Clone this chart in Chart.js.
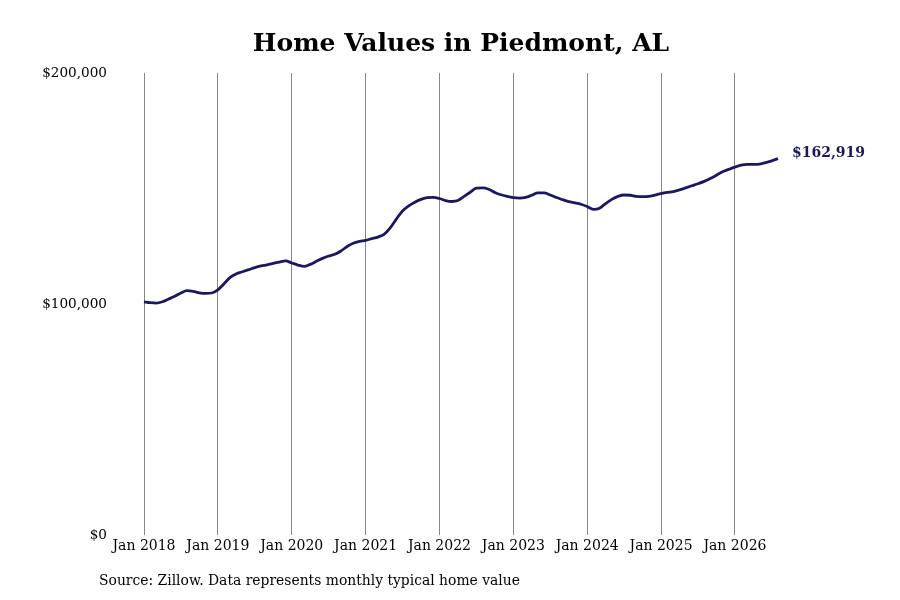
<!DOCTYPE html>
<html>
<head>
<meta charset="utf-8">
<script src="https://cdn.jsdelivr.net/npm/chart.js@4.4.1/dist/chart.umd.min.js"></script>
<style>
  html, body { margin: 0; padding: 0; background: #fff; }
  #wrap { width: 900px; height: 600px; position: relative; }
</style>
</head>
<body>
<div id="wrap"><canvas id="c"></canvas></div>
<script>
const chartTitle = "Home Values in Piedmont, AL";
const sourceNote = "Source: Zillow. Data represents monthly typical home value";
const monthNames = ["Jan","Feb","Mar","Apr","May","Jun","Jul","Aug","Sep","Oct","Nov","Dec"];
const years = [2018, 2019, 2020, 2021, 2022, 2023, 2024, 2025, 2026];
const lastMonthIndex2026 = 7; // Aug 2026

// Monthly typical home value, Jan 2018 .. Aug 2026
const values2018 = [101000,100600,100400,101000,102200,103400,104800,105800,105500,104900,104600,104800];
const values2019 = [106200,108800,111600,113100,114000,114900,115800,116500,117000,117600,118200,118700];
const values2020 = [117800,116900,116300,117200,118500,119800,120800,121600,123000,124900,126300,127100];
const values2021 = [127600,128300,129000,130200,133000,136800,140300,142500,144100,145300,146100,146200];
const values2022 = [145700,144800,144400,144800,146600,148400,150200,150300,149700,148300,147300,146600];
const values2023 = [146100,145900,146200,147100,148100,148100,147200,146100,145200,144300,143800,143200];
const values2024 = [142200,141000,141500,143500,145300,146600,147200,147100,146600,146500,146600,147200];
const values2025 = [147800,148300,148700,149400,150300,151200,152100,153100,154400,155800,157300,158300];
const values2026 = [159300,160100,160500,160500,160600,161200,162000,162919];

const yTicks = [0, 100000, 200000];

const labels = [];
years.forEach(y => {
  const n = (y === 2026) ? lastMonthIndex2026 + 1 : 12;
  for (let m = 0; m < n; m++) labels.push(monthNames[m] + " " + y);
});
const values = [].concat(values2018, values2019, values2020, values2021, values2022,
                         values2023, values2024, values2025, values2026);

const fmt = v => "$" + Number(v).toLocaleString("en-US");
const NAVY = "#1b1763";
const SERIF = "'DejaVu Serif', serif";

const extras = {
  id: "extras",
  afterDraw(chart) {
    const ctx = chart.ctx;
    const meta = chart.getDatasetMeta(0);
    const last = meta.data[meta.data.length - 1];
    ctx.save();
    ctx.font = "bold 14px " + SERIF;
    ctx.fillStyle = NAVY;
    ctx.textAlign = "left";
    ctx.textBaseline = "middle";
    ctx.fillText(fmt(values[values.length - 1]), last.x + 14, last.y - 5);
    ctx.font = "13.9px " + SERIF;
    ctx.fillStyle = "#000";
    ctx.fillText(sourceNote, 99, 581);
    ctx.restore();
  }
};

new Chart(document.getElementById("c"), {
  type: "line",
  data: {
    labels: labels,
    datasets: [{
      data: values,
      borderColor: NAVY,
      borderWidth: 2.8,
      pointRadius: 0,
      pointHoverRadius: 0,
      tension: 0.4,
      cubicInterpolationMode: "monotone",
      fill: false
    }]
  },
  options: {
    responsive: true,
    maintainAspectRatio: false,
    animation: false,
    layout: { padding: { left: 0, right: 122, top: 0, bottom: 42 } },
    plugins: {
      legend: { display: false },
      tooltip: { enabled: false },
      title: {
        display: true,
        text: chartTitle,
        fullSize: false,
        color: "#000",
        font: { family: SERIF, size: 25, weight: "bold", lineHeight: 1.2 },
        padding: { top: 29, bottom: 14 }
      }
    },
    scales: {
      x: {
        type: "category",
        offset: false,
        afterBuildTicks(scale) {
          scale.ticks = scale.ticks.filter(t => labels[t.value].startsWith("Jan"));
        },
        ticks: {
          autoSkip: false,
          maxRotation: 0,
          minRotation: 0,
          padding: 3,
          color: "#000",
          font: { family: SERIF, size: 14 },
          callback(v) { return labels[v]; }
        },
        grid: { display: true, drawTicks: false, color: "#888888", lineWidth: 1 },
        border: { display: false }
      },
      y: {
        min: 0,
        max: 200000,
        afterBuildTicks(scale) {
          scale.ticks = yTicks.map(v => ({ value: v }));
        },
        afterFit(scale) { scale.width = 144; },
        ticks: {
          padding: 37,
          color: "#000",
          font: { family: SERIF, size: 13.6 },
          callback(v) { return fmt(v); }
        },
        grid: { display: false, drawTicks: false },
        border: { display: false }
      }
    }
  },
  plugins: [extras]
});
</script>
</body>
</html>
